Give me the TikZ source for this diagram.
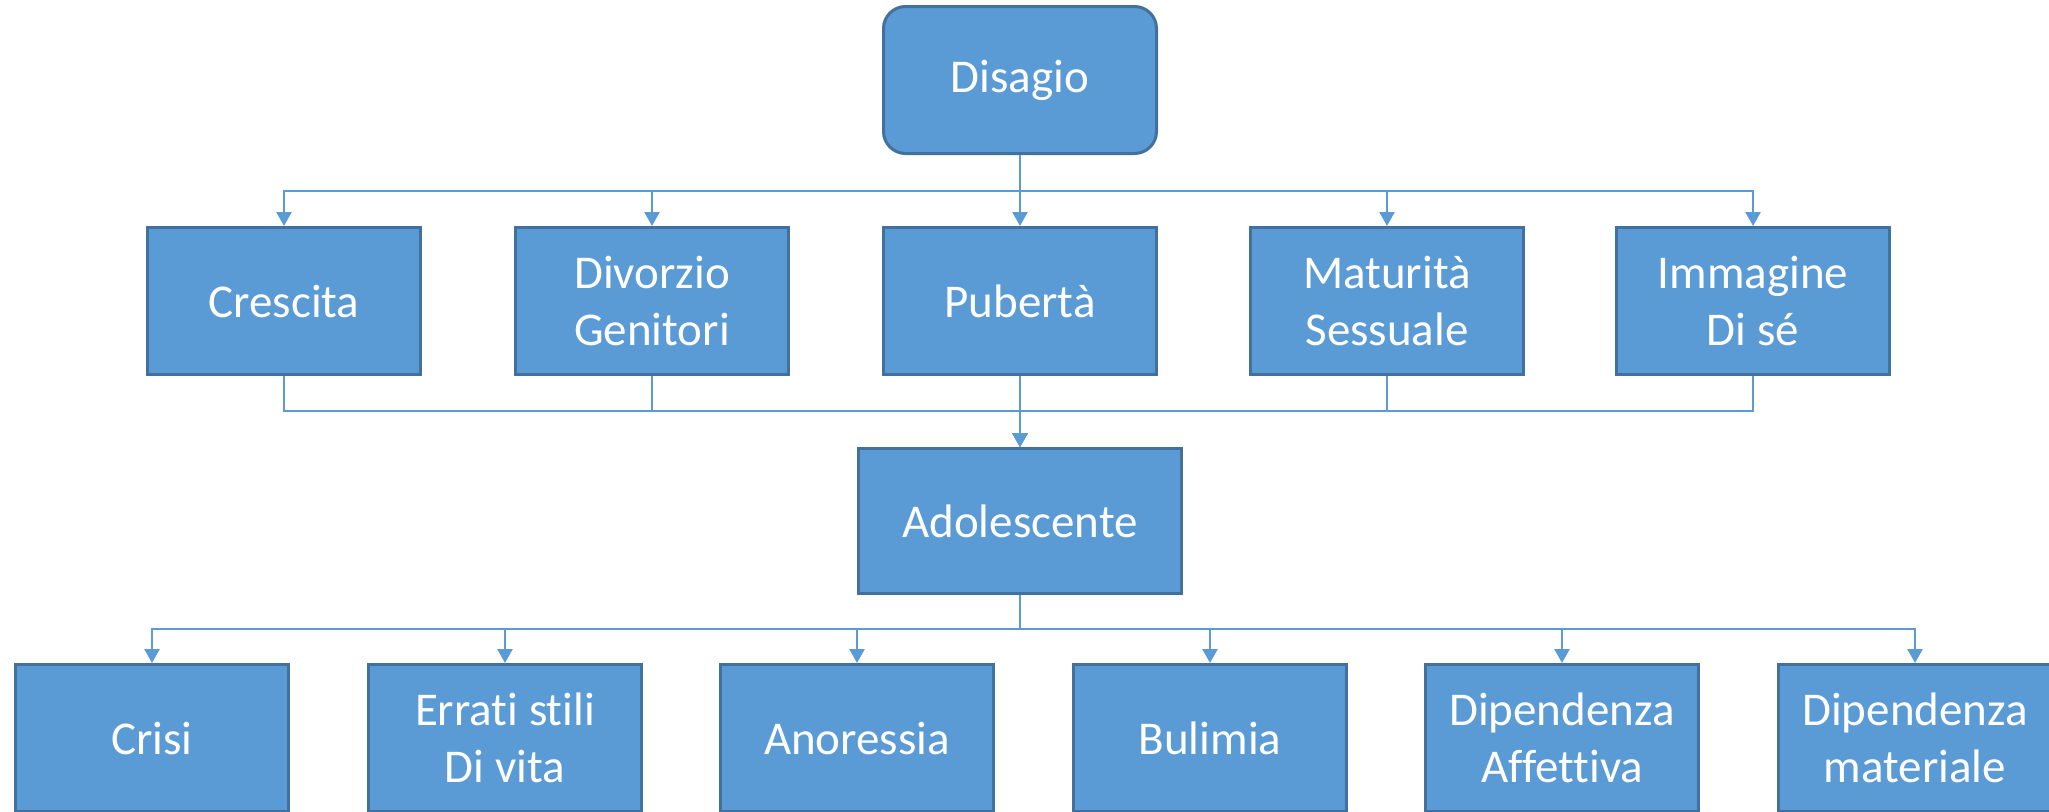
\documentclass[tikz,border=0pt]{standalone}
\usepackage{fontspec}
\setmainfont{Carlito}[Ligatures=NoCommon]
\usetikzlibrary{arrows.meta}
\definecolor{boxfill}{HTML}{5B9BD5}
\definecolor{boxline}{HTML}{41719C}
\definecolor{conncol}{HTML}{5B9BD5}
\begin{document}
\begin{tikzpicture}[x=1pt,y=-1pt,
  box/.style={draw=boxline, line width=3pt, fill=boxfill, text=white,
    minimum width=273pt, minimum height=147pt, inner sep=0pt, align=center,
    font=\fontsize{47}{57}\selectfont},
  rbox/.style={box, rounded corners=22pt},
  widebox/.style={box, minimum width=323pt, minimum height=145pt},
  arr/.style={draw=conncol, line width=2.5pt, -{Triangle[length=14pt,width=15pt]}},
]
\clip (0,0) rectangle (2049,811);
\useasboundingbox (0,0) rectangle (2049,811);
% top
\node[rbox] (dis) at (1020,80) {Disagio};
% row 2
\node[box] (cre) at (284,301) {Crescita};
\node[box] (div) at (652,301) {Divorzio\\Genitori};
\node[box] (pub) at (1020,301) {Pubertà};
\node[box] (mat) at (1387,301) {Maturità\\Sessuale};
\node[box] (imm) at (1753,301) {Immagine\\Di sé};
% middle
\node[widebox] (ado) at (1020,521) {Adolescente};
% row 3
\node[box] (cri) at (152,738) {Crisi};
\node[box] (err) at (505,738) {Errati stili\\Di vita};
\node[box] (ano) at (857,738) {Anoressia};
\node[box] (bul) at (1210,738) {Bulimia};
\node[box] (dipa) at (1562,738) {Dipendenza\\Affettiva};
\node[box] (dipm) at (1915,738) {Dipendenza\\materiale};
% bus points
\coordinate (bus1) at (1020,191);
\coordinate (bus2) at (1020,411);
\coordinate (bus3) at (1020,629);
% connectors
\foreach \n in {cre,div,pub,mat,imm}{
  \draw[arr] (dis.south) -- (bus1) -| (\n.north);
  \draw[arr] (\n.south) |- (bus2) -- (ado.north);
}
\foreach \n in {cri,err,ano,bul,dipa,dipm}{
  \draw[arr] (ado.south) -- (bus3) -| (\n.north);
}
\end{tikzpicture}
\end{document}
